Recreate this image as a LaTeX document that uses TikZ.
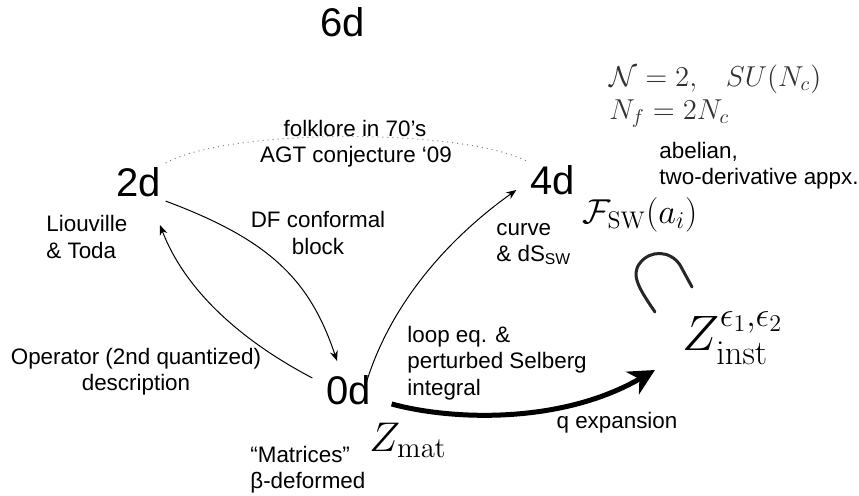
\documentclass[tikz,border=0pt]{standalone}
\usepackage{amsmath}
\usepackage[no-math]{fontspec}
\setmainfont{Liberation Sans}
\usetikzlibrary{arrows.meta, positioning}
\tikzset{
    dimlabel/.style={font=\fontsize{20}{24}\selectfont, inner sep=2pt},
    note/.style={font=\fontsize{11.2}{13.2}\selectfont, inner sep=0pt},
    mathbig/.style={inner sep=0pt},
    link/.style={-{Stealth[length=5pt, width=4pt]}, line width=0.5pt},
    biglink/.style={-{Stealth[length=13pt, width=13pt, inset=4pt]}, line width=2.5pt},
}

\begin{document}
\begin{tikzpicture}[x=0.5pt, y=-0.5pt]
    \useasboundingbox (0,0) rectangle (859,496);

    % dimensions
    \node[dimlabel] (d6) at (343,22) {6d};
    \node[dimlabel] (d2) at (139,182) {2d};
    \node[dimlabel] (d4) at (553,180) {4d};
    \node[dimlabel] (d0) at (349,390) {0d};

    % notes
    \node[note] (folk) at (355,128) {folklore in 70’s};
    \node[note] (agt) at (356,157) {AGT conjecture ‘09};
    \node[note, align=left, anchor=west] (liou) at (46,237) {Liouville\\\& Toda};
    \node[note, align=center] (dfblock) at (318,233) {DF conformal\\block};
    \node[note, align=left, anchor=west] (curve) at (496,244) {curve\\\& dS\textsubscript{SW}};
    \node[note, align=left, anchor=west] (abel) at (659,166) {abelian,\\two-derivative appx.};
    \node[note, align=left, anchor=west] (loop) at (407,363) {loop eq. \&\\perturbed Selberg\\integral};
    \node[note] (qexp) at (617,423) {q expansion};
    \node[note, align=center] (oper) at (136,372) {Operator (2nd quantized)\\description};
    \node[note, align=left, anchor=west] (matr) at (250,470) {“Matrices”\\β-deformed};

    % formulas
    \node[mathbig, align=left, anchor=west, text=black!80,
          font=\fontsize{14.4}{16.5}\selectfont] (gauge) at (609,96)
          {$\mathcal{N}=2,\;\;\; SU(N_c)$\\$N_f=2N_c$};
    \node[mathbig, font=\fontsize{18.5}{20}\selectfont] (fsw) at (640,215) {$\mathcal{F}_{\mathrm{SW}}(a_i)$};
    \node[mathbig, font=\fontsize{24}{26}\selectfont] (zinst) at (733,338) {$Z^{\epsilon_1,\epsilon_2}_{\mathrm{inst}}$};
    \node[mathbig, font=\fontsize{21}{22}\selectfont] (zmat) at (408,440) {$Z_{\mathrm{mat}}$};

    % connectors
    \draw[dotted, gray, line width=0.5pt] (d2.north east) .. controls (230,128) and (460,128) .. (d4.north west);
    \draw[link] (d2.south east) .. controls (270,240) and (310,280) .. ([xshift=-6pt, yshift=5pt]d0.north);
    \draw[link] ([xshift=-5pt, yshift=6pt]d0.west) .. controls (240,340) and (185,290) .. ([xshift=10.5pt, yshift=-12pt]d2.south);
    \draw[link] ([xshift=8pt, yshift=-8pt]d0.north) .. controls (392,295) and (460,230) .. ([xshift=-5pt, yshift=-5pt]d4.west);
    \draw[biglink] ([xshift=8pt, yshift=-7pt]d0.east) .. controls (450,420) and (560,425) .. (655,370);

    % cup over the instanton sum
    \draw[line width=1.5pt, black!85, line cap=round] (655,312) .. controls (640,290) and (630,275) .. (640,263)
        .. controls (650,250) and (670,250) .. (680,265) -- (692,287);
\end{tikzpicture}
\end{document}
